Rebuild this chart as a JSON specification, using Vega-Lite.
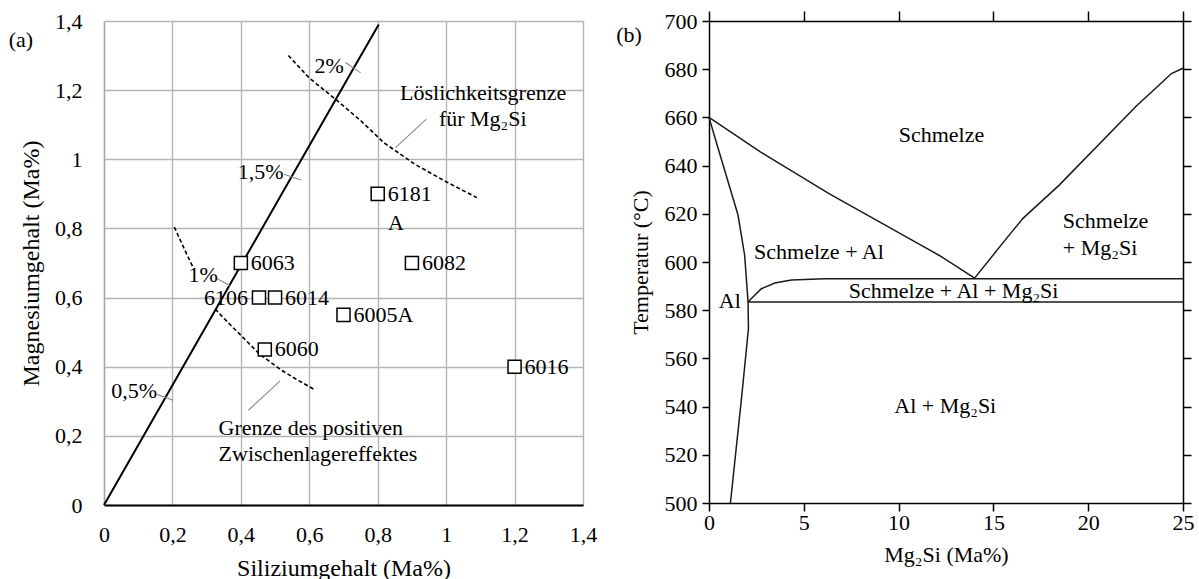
{
  "$schema": "https://vega.github.io/schema/vega-lite/v6.json",
  "padding": {"left": 8, "top": 10, "right": 2, "bottom": 0},
  "spacing": 19,
  "config": {
    "font": "Liberation Serif",
    "view": {"stroke": null},
    "text": {"font": "Liberation Serif", "fontSize": 22, "baseline": "middle", "color": "black"},
    "axis": {"labelFont": "Liberation Serif", "titleFont": "Liberation Serif", "labelFontSize": 22, "titleFontSize": 22, "titleFontWeight": "normal", "labelColor": "black", "titleColor": "black", "labelFlush": false, "labelOverlap": false}
  },
  "datasets": {
    "lineA": [
      {"series": "solid", "kind": "solid", "i": 0, "x": 0, "y": 0},
      {"series": "solid", "kind": "solid", "i": 1, "x": 0.183, "y": 0.317},
      {"series": "solid", "kind": "solid", "i": 2, "x": 0.366, "y": 0.634},
      {"series": "solid", "kind": "solid", "i": 3, "x": 0.549, "y": 0.951},
      {"series": "solid", "kind": "solid", "i": 4, "x": 0.732, "y": 1.268},
      {"series": "solid", "kind": "solid", "i": 5, "x": 0.803, "y": 1.39},
      {"series": "upper", "kind": "dashed", "i": 0, "x": 0.2055, "y": 0.804},
      {"series": "upper", "kind": "dashed", "i": 1, "x": 0.235, "y": 0.74},
      {"series": "upper", "kind": "dashed", "i": 2, "x": 0.262, "y": 0.684},
      {"series": "lower", "kind": "dashed", "i": 0, "x": 0.325, "y": 0.567},
      {"series": "lower", "kind": "dashed", "i": 1, "x": 0.36, "y": 0.53},
      {"series": "lower", "kind": "dashed", "i": 2, "x": 0.396, "y": 0.495},
      {"series": "lower", "kind": "dashed", "i": 3, "x": 0.454, "y": 0.437},
      {"series": "lower", "kind": "dashed", "i": 4, "x": 0.517, "y": 0.391},
      {"series": "lower", "kind": "dashed", "i": 5, "x": 0.565, "y": 0.362},
      {"series": "lower", "kind": "dashed", "i": 6, "x": 0.613, "y": 0.335},
      {"series": "sol", "kind": "dashed", "i": 0, "x": 0.539, "y": 1.3},
      {"series": "sol", "kind": "dashed", "i": 1, "x": 0.6, "y": 1.235},
      {"series": "sol", "kind": "dashed", "i": 2, "x": 0.679, "y": 1.172},
      {"series": "sol", "kind": "dashed", "i": 3, "x": 0.751, "y": 1.111},
      {"series": "sol", "kind": "dashed", "i": 4, "x": 0.818, "y": 1.048},
      {"series": "sol", "kind": "dashed", "i": 5, "x": 0.908, "y": 0.986},
      {"series": "sol", "kind": "dashed", "i": 6, "x": 1.0, "y": 0.935},
      {"series": "sol", "kind": "dashed", "i": 7, "x": 1.09, "y": 0.889}
    ],
    "leadersA": [
      {"x": 0.155, "y": 0.32, "x2": 0.202, "y2": 0.303},
      {"x": 0.33, "y": 0.655, "x2": 0.368, "y2": 0.634},
      {"x": 0.526, "y": 0.957, "x2": 0.576, "y2": 0.94},
      {"x": 0.706, "y": 1.28, "x2": 0.75, "y2": 1.25},
      {"x": 0.942, "y": 1.116, "x2": 0.852, "y2": 1.034},
      {"x": 0.515, "y": 0.359, "x2": 0.422, "y2": 0.274}
    ],
    "alloys": [
      {"id": "6063", "side": "r", "x": 0.4, "y": 0.7},
      {"id": "6106", "side": "l", "x": 0.453, "y": 0.6},
      {"id": "6014", "side": "r", "x": 0.5, "y": 0.6},
      {"id": "6005A", "side": "r", "x": 0.7, "y": 0.55},
      {"id": "6060", "side": "r", "x": 0.47, "y": 0.45},
      {"id": "6181", "side": "r", "x": 0.8, "y": 0.9},
      {"id": "6082", "side": "r", "x": 0.9, "y": 0.7},
      {"id": "6016", "side": "r", "x": 1.2, "y": 0.4}
    ],
    "annotA": [
      {"t": "0,5%", "al": "c", "x": 0.088, "y": 0.33},
      {"t": "1%", "al": "c", "x": 0.29, "y": 0.665},
      {"t": "1,5%", "al": "c", "x": 0.458, "y": 0.962},
      {"t": "2%", "al": "c", "x": 0.658, "y": 1.27},
      {"t": "Löslichkeitsgrenze", "al": "c", "x": 1.108, "y": 1.193},
      {"t": "für Mg₂Si", "al": "c", "x": 1.107, "y": 1.116},
      {"t": "A", "al": "c", "x": 0.853, "y": 0.817},
      {"t": "(a)", "al": "c", "x": -0.243, "y": 1.344},
      {"t": "Grenze des positiven", "al": "l", "x": 0.335, "y": 0.224},
      {"t": "Zwischenlagereffektes", "al": "l", "x": 0.335, "y": 0.147}
    ],
    "lineB": [
      {"series": "liqL", "i": 0, "x": 0, "y": 660},
      {"series": "liqL", "i": 1, "x": 2.69, "y": 645.8},
      {"series": "liqL", "i": 2, "x": 6.33, "y": 628.4},
      {"series": "liqL", "i": 3, "x": 11.39, "y": 606.1},
      {"series": "liqL", "i": 4, "x": 12.17, "y": 602.6},
      {"series": "liqL", "i": 5, "x": 14.01, "y": 593.3},
      {"series": "liqR", "i": 0, "x": 14.01, "y": 593.3},
      {"series": "liqR", "i": 1, "x": 15.69, "y": 609.8},
      {"series": "liqR", "i": 2, "x": 16.56, "y": 618.1},
      {"series": "liqR", "i": 3, "x": 18.47, "y": 631.9},
      {"series": "liqR", "i": 4, "x": 22.54, "y": 664.7},
      {"series": "liqR", "i": 5, "x": 23.6, "y": 672.4},
      {"series": "liqR", "i": 6, "x": 24.39, "y": 678.2},
      {"series": "liqR", "i": 7, "x": 25, "y": 680.4},
      {"series": "sol", "i": 0, "x": 0, "y": 660},
      {"series": "sol", "i": 1, "x": 0.475, "y": 647.3},
      {"series": "sol", "i": 2, "x": 1.53, "y": 619.5},
      {"series": "sol", "i": 3, "x": 1.88, "y": 602.8},
      {"series": "sol", "i": 4, "x": 2.06, "y": 583.4},
      {"series": "sol", "i": 5, "x": 2.08, "y": 572.3},
      {"series": "sol", "i": 6, "x": 1.71, "y": 543.1},
      {"series": "sol", "i": 7, "x": 1.13, "y": 500},
      {"series": "eut3", "i": 0, "x": 2.06, "y": 583.4},
      {"series": "eut3", "i": 1, "x": 2.41, "y": 586.2},
      {"series": "eut3", "i": 2, "x": 2.76, "y": 588.9},
      {"series": "eut3", "i": 3, "x": 3.47, "y": 591.3},
      {"series": "eut3", "i": 4, "x": 4.35, "y": 592.5},
      {"series": "eut3", "i": 5, "x": 6.1, "y": 593.1},
      {"series": "eut3", "i": 6, "x": 25, "y": 593.1},
      {"series": "eut", "i": 0, "x": 2.06, "y": 583.4},
      {"series": "eut", "i": 1, "x": 25, "y": 583.4}
    ],
    "annotB": [
      {"t": "Schmelze", "al": "c", "x": 12.26, "y": 652.8},
      {"t": "Schmelze + Al", "al": "c", "x": 5.8, "y": 604.2},
      {"t": "Schmelze + Al + Mg₂Si", "al": "c", "x": 12.9, "y": 587.9},
      {"t": "Al", "al": "c", "x": 1.1, "y": 584},
      {"t": "Al + Mg₂Si", "al": "c", "x": 12.46, "y": 540.2},
      {"t": "(b)", "al": "c", "x": -4.22, "y": 694},
      {"t": "Schmelze", "al": "l", "x": 18.66, "y": 617.2},
      {"t": "+ Mg₂Si", "al": "l", "x": 18.66, "y": 606}
    ]
  },
  "hconcat": [
    {
      "width": 479,
      "height": 484,
      "layer": [
        {
          "data": {"name": "lineA"},
          "transform": [{"filter": "datum.kind == 'solid'"}],
          "mark": {"type": "line", "color": "black", "strokeWidth": 2},
          "encoding": {
            "x": {"field": "x", "type": "quantitative", "scale": {"domain": [0, 1.4], "nice": false, "zero": false},
              "axis": {"title": "Siliziumgehalt (Ma%)", "values": [0, 0.1, 0.2, 0.3, 0.4, 0.5, 0.6, 0.7, 0.8, 0.9, 1.0, 1.1, 1.2, 1.3, 1.4],
                "labelExpr": "(round(datum.value*10) % 2 == 0) ? replace(format(datum.value, '.1~f'), '.', ',') : ''",
                "grid": true, "gridColor": "#b4b4b4", "gridWidth": 1.4, "domainColor": "black", "domainWidth": 1.8,
                "ticks": false, "tickSize": 0, "labelPadding": 19, "titlePadding": 11, "titleFontSize": 24}},
            "y": {"field": "y", "type": "quantitative", "scale": {"domain": [0, 1.4], "nice": false, "zero": false},
              "axis": {"title": "Magnesiumgehalt (Ma%)", "values": [0, 0.1, 0.2, 0.3, 0.4, 0.5, 0.6, 0.7, 0.8, 0.9, 1.0, 1.1, 1.2, 1.3, 1.4],
                "labelExpr": "(round(datum.value*10) % 2 == 0) ? replace(format(datum.value, '.1~f'), '.', ',') : ''",
                "grid": true, "gridColor": "#b4b4b4", "gridWidth": 1.4, "domainColor": "#a8a8a8", "domainWidth": 1.4,
                "ticks": false, "tickSize": 0, "labelPadding": 22, "titlePadding": 11, "titleFontSize": 24}},
            "detail": {"field": "series"},
            "order": {"field": "i"}
          }
        },
        {
          "data": {"name": "lineA"},
          "transform": [{"filter": "datum.kind == 'dashed'"}],
          "mark": {"type": "line", "color": "black", "strokeWidth": 1.6, "strokeDash": [4, 2.5]},
          "encoding": {
            "x": {"field": "x", "type": "quantitative"},
            "y": {"field": "y", "type": "quantitative"},
            "detail": {"field": "series"},
            "order": {"field": "i"}
          }
        },
        {
          "data": {"name": "leadersA"},
          "mark": {"type": "rule", "color": "#8a8a8a", "strokeWidth": 1.1},
          "encoding": {
            "x": {"field": "x", "type": "quantitative"},
            "y": {"field": "y", "type": "quantitative"},
            "x2": {"field": "x2"},
            "y2": {"field": "y2"}
          }
        },
        {
          "data": {"name": "alloys"},
          "mark": {"type": "point", "shape": "square", "filled": true, "fill": "white", "stroke": "black", "strokeWidth": 1.5, "size": 170, "opacity": 1},
          "encoding": {
            "x": {"field": "x", "type": "quantitative"},
            "y": {"field": "y", "type": "quantitative"}
          }
        },
        {
          "data": {"name": "alloys"},
          "transform": [{"filter": "datum.side == 'r'"}],
          "mark": {"type": "text", "align": "left", "dx": 10},
          "encoding": {
            "x": {"field": "x", "type": "quantitative"},
            "y": {"field": "y", "type": "quantitative"},
            "text": {"field": "id"}
          }
        },
        {
          "data": {"name": "alloys"},
          "transform": [{"filter": "datum.side == 'l'"}],
          "mark": {"type": "text", "align": "right", "dx": -11},
          "encoding": {
            "x": {"field": "x", "type": "quantitative"},
            "y": {"field": "y", "type": "quantitative"},
            "text": {"field": "id"}
          }
        },
        {
          "data": {"name": "annotA"},
          "transform": [{"filter": "datum.al == 'c'"}],
          "mark": {"type": "text", "align": "center"},
          "encoding": {
            "x": {"field": "x", "type": "quantitative"},
            "y": {"field": "y", "type": "quantitative"},
            "text": {"field": "t"}
          }
        },
        {
          "data": {"name": "annotA"},
          "transform": [{"filter": "datum.al == 'l'"}],
          "mark": {"type": "text", "align": "left"},
          "encoding": {
            "x": {"field": "x", "type": "quantitative"},
            "y": {"field": "y", "type": "quantitative"},
            "text": {"field": "t"}
          }
        }
      ]
    },
    {
      "width": 474,
      "height": 482,
      "resolve": {"axis": {"x": "independent", "y": "independent"}},
      "layer": [
        {
          "data": {"name": "lineB"},
          "mark": {"type": "line", "color": "#1a1a1a", "strokeWidth": 1.5},
          "encoding": {
            "x": {"field": "x", "type": "quantitative", "scale": {"domain": [0, 25], "nice": false, "zero": false},
              "axis": {"orient": "bottom", "title": "Mg₂Si (Ma%)", "values": [0, 5, 10, 15, 20, 25], "grid": false,
                "domainColor": "black", "domainWidth": 1.5, "tickColor": "black", "tickWidth": 1.5, "tickSize": 8,
                "labelPadding": 1, "titlePadding": 11}},
            "y": {"field": "y", "type": "quantitative", "scale": {"domain": [500, 700], "nice": false, "zero": false},
              "axis": {"orient": "left", "title": "Temperatur (°C)", "values": [500, 520, 540, 560, 580, 600, 620, 640, 660, 680, 700], "grid": false,
                "domainColor": "black", "domainWidth": 1.5, "tickColor": "black", "tickWidth": 1.5, "tickSize": 7,
                "labelPadding": 5, "titlePadding": 12}},
            "detail": {"field": "series"},
            "order": {"field": "i"}
          }
        },
        {
          "data": {"name": "annotB"},
          "transform": [{"filter": "datum.al == 'c'"}],
          "mark": {"type": "text", "align": "center"},
          "encoding": {
            "x": {"field": "x", "type": "quantitative",
              "axis": {"orient": "top", "title": null, "labels": false, "values": [0, 5, 10, 15, 20, 25], "grid": false,
                "domainColor": "black", "domainWidth": 1.5, "tickColor": "black", "tickWidth": 1.5, "tickSize": 10}},
            "y": {"field": "y", "type": "quantitative",
              "axis": {"orient": "right", "title": null, "labels": false, "values": [500, 520, 540, 560, 580, 600, 620, 640, 660, 680, 700], "grid": false,
                "domainColor": "black", "domainWidth": 1.5, "tickColor": "black", "tickWidth": 1.5, "tickSize": 8}},
            "text": {"field": "t"}
          }
        },
        {
          "data": {"name": "annotB"},
          "transform": [{"filter": "datum.al == 'l'"}],
          "mark": {"type": "text", "align": "left"},
          "encoding": {
            "x": {"field": "x", "type": "quantitative", "axis": null},
            "y": {"field": "y", "type": "quantitative", "axis": null},
            "text": {"field": "t"}
          }
        }
      ]
    }
  ]
}
